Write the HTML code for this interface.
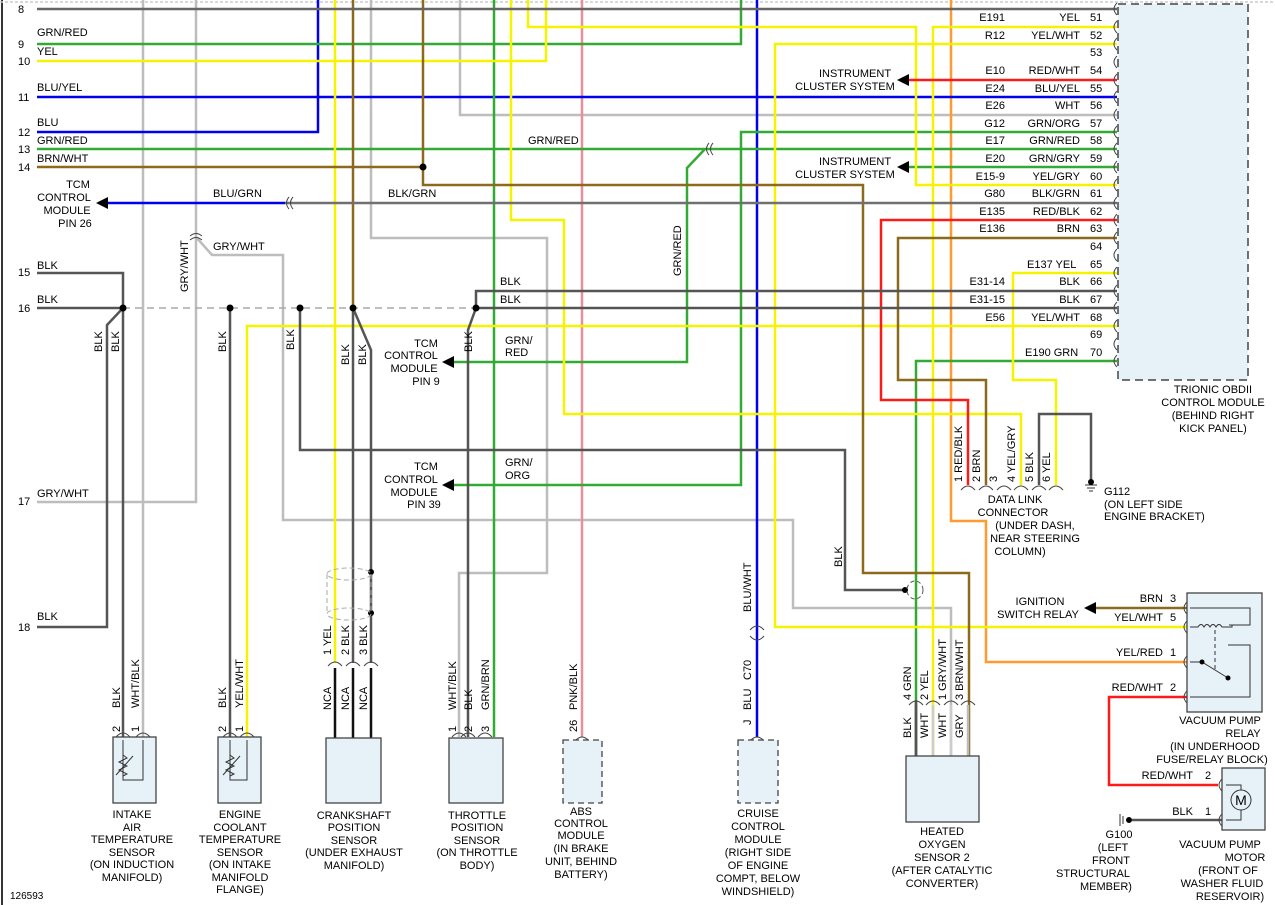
<!DOCTYPE html>
<html><head><meta charset="utf-8"><style>
html,body{margin:0;padding:0;background:#fff;}
svg{display:block;font-family:"Liberation Sans",sans-serif;font-size:11px;}
</style></head><body>
<svg width="1275" height="905" viewBox="0 0 1275 905" xmlns="http://www.w3.org/2000/svg">
<rect width="1275" height="905" fill="#fff"/>
<line x1="2" y1="0" x2="2" y2="905" stroke="#333" stroke-width="2"/>
<line x1="0" y1="2" x2="1275" y2="2" stroke="#ccc" stroke-width="1.5" stroke-dasharray="3,2"/>
<!-- module box -->
<rect x="1118" y="4" width="130" height="376" fill="#e6f2f8" stroke="#444" stroke-width="1.5" stroke-dasharray="8,5"/>

<g fill="none" stroke-width="2.5">
<!-- light gray wires -->
<polyline stroke="#bdbdbd" points="143,0 143,737"/>
<polyline stroke="#bdbdbd" points="196,0 196,502 37,502"/>
<polyline stroke="#bdbdbd" points="196,237 212,255 283,255 283,520 793,520 793,608 951,608 951,756"/>
<polyline stroke="#bdbdbd" points="460,0 460,115 1117,115"/>
<polyline stroke="#bdbdbd" points="371,0 371,238 547,238 547,573 459,573 459,737"/>
<!-- pink / orange -->
<polyline stroke="#e8909a" points="582,0 582,737"/>
<polyline stroke="#ff9a30" points="951,0 951,521 986,521 986,662 1187,662"/>
<!-- blue -->
<polyline stroke="#0000ee" points="318,0 318,132 37,132"/>
<polyline stroke="#0000ee" points="757,0 757,737"/>
<polyline stroke="#0000ee" points="37,97 1117,97"/>
<polyline stroke="#0000ee" points="285,203 100,203"/>
<!-- greens -->
<polyline stroke="#33aa33" points="741,0 741,44 37,44"/>
<polyline stroke="#33aa33" points="37,149 1117,149"/>
<polyline stroke="#33aa33" points="705,149 687,168 687,362 452,362"/>
<polyline stroke="#33aa33" points="1117,132 741,132 741,485 452,485"/>
<polyline stroke="#33aa33" points="1117,167 908,167"/>
<polyline stroke="#33aa33" points="1117,361 916,361 916,756"/>
<polyline stroke="#33aa33" points="494,0 494,737"/>
<!-- yellows -->
<polyline stroke="#f4f400" points="546,0 546,61 37,61"/>
<polyline stroke="#f4f400" points="528,0 528,27 916,27 916,185 1117,185"/>
<polyline stroke="#f4f400" points="1117,27 933,27 933,756"/>
<polyline stroke="#f4f400" points="1117,44 775,44 775,627 1187,627"/>
<polyline stroke="#f4f400" points="511,0 511,220 564,220 564,414 1021,414 1021,485"/>
<polyline stroke="#f4f400" points="1117,273 1013,273 1013,380 1056,380 1056,485"/>
<polyline stroke="#f4f400" points="1117,326 247,326 247,737"/>
<polyline stroke="#f4f400" points="335,0 335,663"/>
<!-- reds -->
<polyline stroke="#ff1a1a" points="1117,80 908,80"/>
<polyline stroke="#ff1a1a" points="1117,220 881,220 881,400 968,400 968,485"/>
<polyline stroke="#ff1a1a" points="1187,697 1109,697 1109,785 1218,785"/>
<!-- browns -->
<polyline stroke="#8b6a1e" points="37,167 423,167"/>
<polyline stroke="#8b6a1e" points="423,0 423,185 863,185 863,573 969,573 969,756"/>
<polyline stroke="#8b6a1e" points="1117,238 898,238 898,380 986,380 986,485"/>
<polyline stroke="#8b6a1e" points="353,0 353,308"/>
<polyline stroke="#8b6a1e" points="1187,608 1095,608"/>
<!-- dark gray (BLK) -->
<polyline stroke="#666" points="37,9 1117,9"/>
<polyline stroke="#707070" points="1117,203 285,203"/>
<polyline stroke="#555" points="37,273 123,273 123,308"/>
<line x1="37" y1="308" x2="123" y2="308" stroke="#555"/>
<line x1="123" y1="308" x2="476" y2="308" stroke="#aaa" stroke-width="1.5" stroke-dasharray="7,5"/>
<polyline stroke="#555" points="476,308 1117,308"/>
<polyline stroke="#555" points="476,308 476,291 1117,291"/>
<polyline stroke="#555" points="123,308 123,737"/>
<polyline stroke="#555" points="123,308 107,325 107,627 37,627"/>
<polyline stroke="#555" points="230,308 230,737"/>
<polyline stroke="#555" points="300,308 300,450 845,450 845,590 905,590"/>
<polyline stroke="#555" points="353,308 353,663"/>
<polyline stroke="#555" points="353,308 371,350 371,663"/>
<polyline stroke="#555" points="476,308 468,330 468,737"/>
<polyline stroke="#555" points="1039,485 1039,414 1091,414 1091,480"/>
<polyline stroke="#555" points="1222,820 1132,820"/>
<!-- CKP / O2 lower wires -->
<line x1="335" y1="668" x2="335" y2="738" stroke="#111"/>
<line x1="353" y1="668" x2="353" y2="738" stroke="#111"/>
<line x1="371" y1="668" x2="371" y2="738" stroke="#111"/>
<line x1="916" y1="760" x2="916" y2="700" stroke="#555"/>
</g>
<!-- O2 lower -->
<g stroke-width="2.5">
<line x1="916" y1="705" x2="916" y2="756" stroke="#555"/>
<line x1="933" y1="705" x2="933" y2="756" stroke="#ccc"/>
<line x1="951" y1="705" x2="951" y2="756" stroke="#ccc"/>
<line x1="968" y1="705" x2="968" y2="756" stroke="#bbb"/>
</g>

<!-- dots -->
<g fill="#000">
<circle cx="423" cy="167" r="3.5"/><circle cx="123" cy="308" r="3.5"/><circle cx="230" cy="308" r="3.5"/>
<circle cx="300" cy="308" r="3.5"/><circle cx="353" cy="308" r="3.5"/><circle cx="476" cy="308" r="3.5"/>
<circle cx="371" cy="572" r="3"/><circle cx="371" cy="613" r="3"/>
<circle cx="905" cy="590" r="3"/>
</g>
<!-- shield -->
<g fill="none" stroke="#aaa" stroke-dasharray="5,3">
<ellipse cx="349" cy="574" rx="22" ry="6"/><ellipse cx="349" cy="614" rx="22" ry="6"/>
<line x1="327" y1="574" x2="327" y2="614"/><line x1="371" y1="574" x2="371" y2="614"/>
<ellipse cx="915" cy="590" rx="8" ry="9" stroke="#555" stroke-dasharray="4,3"/>
</g>

<!-- arrows -->
<g fill="#000">
<polygon points="96,203 108,197 108,209"/>
<polygon points="897,80 909,74 909,86"/>
<polygon points="897,167 909,161 909,173"/>
<polygon points="442,362 454,356 454,368"/>
<polygon points="442,485 454,479 454,491"/>
<polygon points="1084,608 1096,602 1096,614"/>
</g>

<!-- module connector brackets -->
<g fill="none" stroke="#444" stroke-width="1">
<path d="M1117,3 q-6,6 0,12 M1117,21 q-6,6 0,12 M1117,38 q-6,6 0,12 M1117,56 q-6,6 0,12 M1117,74 q-6,6 0,12 M1117,91 q-6,6 0,12 M1117,109 q-6,6 0,12 M1117,126 q-6,6 0,12 M1117,143 q-6,6 0,12 M1117,161 q-6,6 0,12 M1117,179 q-6,6 0,12 M1117,197 q-6,6 0,12 M1117,214 q-6,6 0,12 M1117,232 q-6,6 0,12 M1117,249 q-6,6 0,12 M1117,267 q-6,6 0,12 M1117,285 q-6,6 0,12 M1117,302 q-6,6 0,12 M1117,320 q-6,6 0,12 M1117,338 q-6,6 0,12 M1117,355 q-6,6 0,12"/>
<path d="M289,197 q-5,6 0,12 M293,197 q-5,6 0,12"/>
<path d="M709,143 q-5,6 0,12 M713,143 q-5,6 0,12"/>
<path d="M190,240 q6,-5 12,0 M190,236 q6,-5 12,0"/>
<!-- DLC -->
<path d="M961,490 q7,-8 14,0 M979,490 q7,-8 14,0 M997,490 q7,-8 14,0 M1014,490 q7,-8 14,0 M1032,490 q7,-8 14,0 M1049,490 q7,-8 14,0"/>
<!-- CKP -->
<path d="M328,666 q7,-8 14,0 M346,666 q7,-8 14,0 M364,666 q7,-8 14,0"/>
<!-- sensors -->
<path d="M116,737 q7,-8 14,0 M136,737 q7,-8 14,0 M223,737 q7,-8 14,0 M240,737 q7,-8 14,0 M452,737 q7,-8 14,0 M461,737 q7,-8 14,0 M478,737 q7,-8 14,0 M575,741 q7,-8 14,0 M750,741 q7,-8 14,0 M750,630 q7,-8 14,0 M750,636 q7,8 14,0"/>
<path d="M909,705 q7,-8 14,0 M926,705 q7,-8 14,0 M944,705 q7,-8 14,0 M961,705 q7,-8 14,0"/>
<!-- relay -->
<path d="M1187,602 q-6,6 0,12 M1187,621 q-6,6 0,12 M1187,656 q-6,6 0,12 M1187,691 q-6,6 0,12 M1222,779 q-6,6 0,12 M1222,814 q-6,6 0,12"/>
</g>

<!-- sensor boxes -->
<g stroke="#444" stroke-width="1.3" fill="#e6f2f8">
<rect x="113" y="737" width="43" height="66"/>
<rect x="218" y="737" width="43" height="66"/>
<rect x="326" y="738" width="55" height="65"/>
<rect x="449" y="738" width="54" height="65"/>
<rect x="563" y="740" width="39" height="63" stroke-dasharray="6,4"/>
<rect x="738" y="740" width="40" height="63" stroke-dasharray="6,4"/>
<rect x="906" y="756" width="73" height="66"/>
<rect x="1187" y="593" width="75" height="119"/>
<rect x="1222" y="768" width="43" height="62"/>
</g>
<!-- thermistor internals -->
<g fill="none" stroke="#333" stroke-width="1">
<polyline points="123,740 123,780 143,780 143,740"/>
<polyline points="123,755 127,758 119,762 127,766 119,770 127,774 123,776"/>
<line x1="116" y1="775" x2="133" y2="756"/>
<polyline points="230,740 230,780 247,780 247,740"/>
<polyline points="230,755 234,758 226,762 234,766 226,770 234,774 230,776"/>
<line x1="223" y1="775" x2="240" y2="756"/>
<!-- relay internals -->
<polyline points="1190,608 1250,608 1250,625 1229,625"/>
<path d="M1190,627 h8 q3,-5 6,0 q3,-5 6,0 q3,-5 6,0 q3,-5 6,0 h10 v-2"/>
<line x1="1215" y1="630" x2="1215" y2="672" stroke-dasharray="4,3"/>
<polyline points="1190,662 1202,662 1228,678"/>
<polyline points="1228,645 1250,645 1250,697 1190,697"/>
<!-- motor -->
<circle cx="1241" cy="800" r="10"/>
<polyline points="1226,785 1241,785 1241,790"/><polyline points="1226,820 1241,820 1241,810"/>
<!-- grounds -->
<line x1="1085" y1="485" x2="1097" y2="485"/><line x1="1087" y1="488" x2="1095" y2="488"/><line x1="1089" y1="491" x2="1093" y2="491"/>
<line x1="1120" y1="814" x2="1120" y2="826"/><line x1="1123" y1="816" x2="1123" y2="824"/>
</g>
<g fill="#000"><circle cx="1202" cy="662" r="2.5"/><circle cx="1228" cy="678" r="2.5"/><circle cx="1129" cy="820" r="3"/><circle cx="1091" cy="482" r="3"/></g>
<text x="1241" y="805" text-anchor="middle" font-size="14">M</text>

<!-- left labels -->
<g fill="#000">
<text x="18" y="13">8</text><text x="18" y="48">9</text><text x="18" y="65">10</text><text x="18" y="101">11</text>
<text x="18" y="136">12</text><text x="18" y="153">13</text><text x="18" y="171">14</text><text x="18" y="276">15</text>
<text x="18" y="312">16</text><text x="18" y="505">17</text><text x="18" y="631">18</text>
<text x="37" y="36">GRN/RED</text><text x="37" y="55">YEL</text><text x="37" y="91">BLU/YEL</text><text x="37" y="126">BLU</text>
<text x="37" y="144">GRN/RED</text><text x="37" y="162">BRN/WHT</text><text x="37" y="269">BLK</text><text x="37" y="303">BLK</text>
<text x="37" y="497">GRY/WHT</text><text x="37" y="620">BLK</text>
<text x="213" y="197">BLU/GRN</text><text x="388" y="197">BLK/GRN</text><text x="528" y="144">GRN/RED</text>
<text x="213" y="250">GRY/WHT</text>
<text x="500" y="285">BLK</text><text x="500" y="303">BLK</text>
<text x="505" y="344">GRN/</text><text x="505" y="356">RED</text>
<text x="505" y="466">GRN/</text><text x="505" y="479">ORG</text>
</g>
<g text-anchor="middle">
<text x="78" y="188">TCM</text><text x="64" y="201">CONTROL</text><text x="67" y="214">MODULE</text><text x="75" y="227">PIN 26</text>
<text x="426" y="347">TCM</text><text x="411" y="359">CONTROL</text><text x="414" y="372">MODULE</text><text x="426" y="385">PIN 9</text>
<text x="426" y="470">TCM</text><text x="411" y="483">CONTROL</text><text x="414" y="496">MODULE</text><text x="424" y="508">PIN 39</text>
<text x="855" y="77">INSTRUMENT</text><text x="845" y="90">CLUSTER SYSTEM</text>
<text x="855" y="165">INSTRUMENT</text><text x="845" y="178">CLUSTER SYSTEM</text>
<text x="1040" y="605">IGNITION</text><text x="1038" y="618">SWITCH RELAY</text>
</g>
<!-- rotated labels -->
<g font-size="11">
<text transform="translate(188,292) rotate(-90)">GRY/WHT</text>
<text transform="translate(102,352) rotate(-90)">BLK</text>
<text transform="translate(119,352) rotate(-90)">BLK</text>
<text transform="translate(226,352) rotate(-90)">BLK</text>
<text transform="translate(294,350) rotate(-90)">BLK</text>
<text transform="translate(349,365) rotate(-90)">BLK</text>
<text transform="translate(366,365) rotate(-90)">BLK</text>
<text transform="translate(472,352) rotate(-90)">BLK</text>
<text transform="translate(681,276) rotate(-90)">GRN/RED</text>
<text transform="translate(842,567) rotate(-90)">BLK</text>
<text transform="translate(751,612) rotate(-90)">BLU/WHT</text>
<text transform="translate(751,680) rotate(-90)">C70</text>
<text transform="translate(751,710) rotate(-90)">BLU</text>
<text transform="translate(751,725) rotate(-90)">J</text>
<!-- DLC -->
<text transform="translate(962,482) rotate(-90)">1 RED/BLK</text>
<text transform="translate(980,482) rotate(-90)">2 BRN</text>
<text transform="translate(997,482) rotate(-90)">3</text>
<text transform="translate(1015,482) rotate(-90)">4 YEL/GRY</text>
<text transform="translate(1033,482) rotate(-90)">5 BLK</text>
<text transform="translate(1050,482) rotate(-90)">6 YEL</text>
<!-- O2 -->
<text transform="translate(911,700) rotate(-90)">4  GRN</text>
<text transform="translate(928,700) rotate(-90)">2  YEL</text>
<text transform="translate(946,700) rotate(-90)">1  GRY/WHT</text>
<text transform="translate(963,700) rotate(-90)">3  BRN/WHT</text>
<text transform="translate(911,738) rotate(-90)">BLK</text>
<text transform="translate(928,738) rotate(-90)">WHT</text>
<text transform="translate(946,738) rotate(-90)">WHT</text>
<text transform="translate(963,738) rotate(-90)">GRY</text>
<!-- sensors -->
<text transform="translate(120,708) rotate(-90)">BLK</text>
<text transform="translate(139,708) rotate(-90)">WHT/BLK</text>
<text transform="translate(120,732) rotate(-90)">2</text>
<text transform="translate(139,732) rotate(-90)">1</text>
<text transform="translate(226,708) rotate(-90)">BLK</text>
<text transform="translate(243,708) rotate(-90)">YEL/WHT</text>
<text transform="translate(226,732) rotate(-90)">2</text>
<text transform="translate(243,732) rotate(-90)">1</text>
<text transform="translate(331,655) rotate(-90)">1  YEL</text>
<text transform="translate(349,655) rotate(-90)">2  BLK</text>
<text transform="translate(367,655) rotate(-90)">3  BLK</text>
<text transform="translate(331,710) rotate(-90)">NCA</text>
<text transform="translate(349,710) rotate(-90)">NCA</text>
<text transform="translate(367,710) rotate(-90)">NCA</text>
<text transform="translate(456,710) rotate(-90)">WHT/BLK</text>
<text transform="translate(472,710) rotate(-90)">BLK</text>
<text transform="translate(489,710) rotate(-90)">GRN/BRN</text>
<text transform="translate(456,732) rotate(-90)">1</text>
<text transform="translate(472,732) rotate(-90)">2</text>
<text transform="translate(489,732) rotate(-90)">3</text>
<text transform="translate(577,710) rotate(-90)">PNK/BLK</text>
<text transform="translate(577,732) rotate(-90)">26</text>
</g>
<!-- right module labels -->
<g>
<text x="1005" y="21" text-anchor="end">E191</text><text x="1080" y="21" text-anchor="end">YEL</text>
<text x="1005" y="39" text-anchor="end">R12</text><text x="1080" y="39" text-anchor="end">YEL/WHT</text>
<text x="1005" y="74" text-anchor="end">E10</text><text x="1080" y="74" text-anchor="end">RED/WHT</text>
<text x="1005" y="92" text-anchor="end">E24</text><text x="1080" y="92" text-anchor="end">BLU/YEL</text>
<text x="1005" y="109" text-anchor="end">E26</text><text x="1080" y="109" text-anchor="end">WHT</text>
<text x="1005" y="127" text-anchor="end">G12</text><text x="1080" y="127" text-anchor="end">GRN/ORG</text>
<text x="1005" y="144" text-anchor="end">E17</text><text x="1080" y="144" text-anchor="end">GRN/RED</text>
<text x="1005" y="162" text-anchor="end">E20</text><text x="1080" y="162" text-anchor="end">GRN/GRY</text>
<text x="1005" y="180" text-anchor="end">E15-9</text><text x="1080" y="180" text-anchor="end">YEL/GRY</text>
<text x="1005" y="197" text-anchor="end">G80</text><text x="1080" y="197" text-anchor="end">BLK/GRN</text>
<text x="1005" y="215" text-anchor="end">E135</text><text x="1080" y="215" text-anchor="end">RED/BLK</text>
<text x="1005" y="232" text-anchor="end">E136</text><text x="1080" y="232" text-anchor="end">BRN</text>
<text x="1027" y="268">E137  YEL</text>
<text x="1005" y="285" text-anchor="end">E31-14</text><text x="1080" y="285" text-anchor="end">BLK</text>
<text x="1005" y="303" text-anchor="end">E31-15</text><text x="1080" y="303" text-anchor="end">BLK</text>
<text x="1005" y="321" text-anchor="end">E56</text><text x="1080" y="321" text-anchor="end">YEL/WHT</text>
<text x="1025" y="356">E190  GRN</text>
<text x="1090" y="21">51</text><text x="1090" y="39">52</text><text x="1090" y="56">53</text><text x="1090" y="74">54</text>
<text x="1090" y="92">55</text><text x="1090" y="109">56</text><text x="1090" y="127">57</text><text x="1090" y="144">58</text>
<text x="1090" y="162">59</text><text x="1090" y="180">60</text><text x="1090" y="197">61</text><text x="1090" y="215">62</text>
<text x="1090" y="232">63</text><text x="1090" y="250">64</text><text x="1090" y="268">65</text><text x="1090" y="285">66</text>
<text x="1090" y="303">67</text><text x="1090" y="321">68</text><text x="1090" y="338">69</text><text x="1090" y="356">70</text>
<!-- relay pins -->
<text x="1163" y="602" text-anchor="end">BRN</text><text x="1170" y="602">3</text>
<text x="1163" y="621" text-anchor="end">YEL/WHT</text><text x="1170" y="621">5</text>
<text x="1163" y="656" text-anchor="end">YEL/RED</text><text x="1170" y="656">1</text>
<text x="1163" y="691" text-anchor="end">RED/WHT</text><text x="1170" y="691">2</text>
<text x="1193" y="779" text-anchor="end">RED/WHT</text><text x="1205" y="779">2</text>
<text x="1193" y="815" text-anchor="end">BLK</text><text x="1205" y="815">1</text>
<text x="1104" y="495">G112</text>
<text x="1104" y="508">(ON LEFT SIDE</text>
<text x="1104" y="520">ENGINE BRACKET)</text>
</g>
<!-- multi-line captions -->
<g text-anchor="middle">
<text x="1213" y="393">TRIONIC OBDII</text><text x="1213" y="406">CONTROL MODULE</text><text x="1213" y="419">(BEHIND RIGHT</text><text x="1213" y="432">KICK PANEL)</text>
<text x="1015" y="503">DATA LINK</text><text x="1013" y="516">CONNECTOR</text><text x="1035" y="529">(UNDER DASH,</text><text x="1035" y="542">NEAR STEERING</text><text x="1020" y="555">COLUMN)</text>
<text x="1220" y="724">VACUUM PUMP</text><text x="1243" y="737">RELAY</text><text x="1215" y="750">(IN UNDERHOOD</text><text x="1212" y="763">FUSE/RELAY BLOCK)</text>
<text x="1220" y="848">VACUUM PUMP</text><text x="1245" y="861">MOTOR</text><text x="1228" y="874">(FRONT OF</text><text x="1222" y="887">WASHER FLUID</text><text x="1230" y="900">RESERVOIR)</text>
<text x="1119" y="838">G100</text><text x="1113" y="851">(LEFT</text><text x="1111" y="864">FRONT</text><text x="1093" y="877">STRUCTURAL</text><text x="1106" y="890">MEMBER)</text>
<text x="942" y="835">HEATED</text><text x="942" y="848">OXYGEN</text><text x="942" y="861">SENSOR 2</text><text x="942" y="874">(AFTER CATALYTIC</text><text x="942" y="887">CONVERTER)</text>
<text x="132" y="818">INTAKE</text><text x="132" y="831">AIR</text><text x="132" y="843">TEMPERATURE</text><text x="132" y="856">SENSOR</text><text x="132" y="868">(ON INDUCTION</text><text x="132" y="881">MANIFOLD)</text>
<text x="240" y="818">ENGINE</text><text x="240" y="831">COOLANT</text><text x="240" y="843">TEMPERATURE</text><text x="240" y="856">SENSOR</text><text x="240" y="868">(ON INTAKE</text><text x="240" y="881">MANIFOLD</text><text x="240" y="893">FLANGE)</text>
<text x="354" y="819">CRANKSHAFT</text><text x="354" y="831">POSITION</text><text x="354" y="844">SENSOR</text><text x="354" y="856">(UNDER EXHAUST</text><text x="354" y="869">MANIFOLD)</text>
<text x="477" y="819">THROTTLE</text><text x="477" y="831">POSITION</text><text x="477" y="844">SENSOR</text><text x="477" y="856">(ON THROTTLE</text><text x="477" y="869">BODY)</text>
<text x="581" y="815">ABS</text><text x="581" y="827">CONTROL</text><text x="581" y="839">MODULE</text><text x="581" y="852">(IN BRAKE</text><text x="581" y="865">UNIT, BEHIND</text><text x="581" y="878">BATTERY)</text>
<text x="758" y="817">CRUISE</text><text x="758" y="830">CONTROL</text><text x="758" y="843">MODULE</text><text x="758" y="856">(RIGHT SIDE</text><text x="758" y="869">OF ENGINE</text><text x="758" y="882">COMPT, BELOW</text><text x="758" y="895">WINDSHIELD)</text>
</g>
<text x="10" y="899" font-size="10">126593</text>
</svg>
</body></html>
